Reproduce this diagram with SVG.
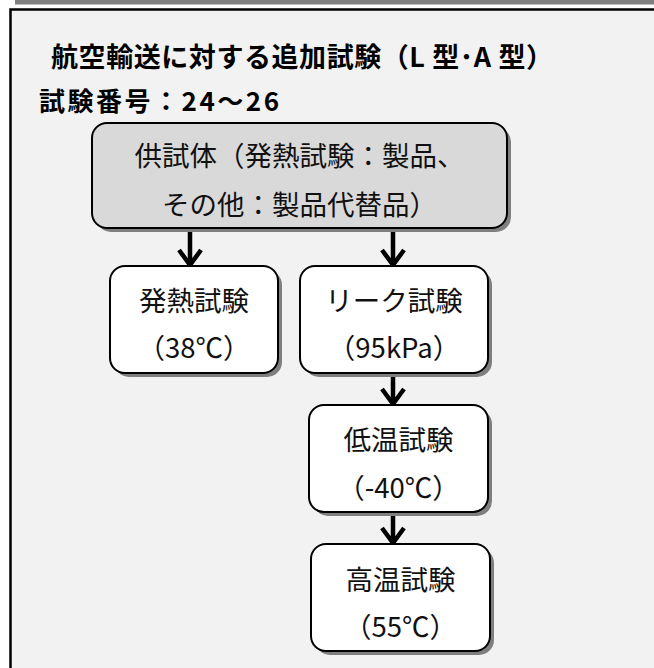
<svg xmlns="http://www.w3.org/2000/svg" width="654" height="668" viewBox="0 0 654 668">
<defs>
<style>
.t{font-family:"Noto Sans CJK JP","Noto Sans",sans-serif;fill:#000}
.h{font-weight:bold;font-size:26px}
.b{font-size:27.5px;text-anchor:middle;fill:#111}
.box{stroke:#000;stroke-width:2}
.sh{fill:#7f7f7f}
.ar{stroke:#000;fill:none;stroke-width:4.5}
</style>
</defs>
<rect x="0" y="0" width="654" height="668" fill="#fff"/>
<rect x="15" y="0" width="639" height="4.5" fill="#808080"/>
<rect x="10.5" y="9.5" width="700" height="700" fill="#f2f2f2" stroke="#000" stroke-width="2.5"/>
<text class="t h" x="51" y="67" style="font-size:27px" textLength="502" lengthAdjust="spacing">航空輸送に対する追加試験（L 型･A 型）</text>
<text class="t h" x="39" y="111" textLength="240" lengthAdjust="spacing">試験番号：24～26</text>
<g id="connectors">
<path class="ar" d="M190 228V264M179 250L190 265L201 250"/>
<path class="ar" d="M393 228V264M382 250L393 265L404 250"/>
<path class="ar" d="M393 373V403M382 389L393 404L404 389"/>
<path class="ar" d="M393 512V542M382 528L393 543L404 528"/>
</g>
<g id="n0">
<rect class="sh" x="96" y="127" width="415" height="105" rx="15"/>
<rect class="box" x="92" y="123" width="415" height="105" rx="15" fill="#d9d9d9"/>
<text class="t b" x="299.5" y="166">供試体（発熱試験：製品、</text>
<text class="t b" x="299.5" y="215">その他：製品代替品）</text>
</g>
<g id="n1">
<rect class="sh" x="114" y="270" width="168" height="107" rx="15"/>
<rect class="box" x="110" y="266" width="168" height="107" rx="15" fill="#fff"/>
<text class="t b" x="194" y="311">発熱試験</text>
<text class="t b" x="194" y="358">（38℃）</text>
</g>
<g id="n2">
<rect class="sh" x="304" y="270" width="188" height="107" rx="15"/>
<rect class="box" x="300" y="266" width="188" height="107" rx="15" fill="#fff"/>
<text class="t b" x="394" y="311">リーク試験</text>
<text class="t b" x="394" y="358">（95kPa）</text>
</g>
<g id="n3">
<rect class="sh" x="313" y="409" width="179" height="107" rx="15"/>
<rect class="box" x="309" y="405" width="179" height="107" rx="15" fill="#fff"/>
<text class="t b" x="398.5" y="450">低温試験</text>
<text class="t b" x="398.5" y="498">（-40℃）</text>
</g>
<g id="n4">
<rect class="sh" x="315" y="548" width="179" height="107" rx="15"/>
<rect class="box" x="311" y="544" width="179" height="107" rx="15" fill="#fff"/>
<text class="t b" x="400.5" y="590">高温試験</text>
<text class="t b" x="400.5" y="637">（55℃）</text>
</g>
</svg>
